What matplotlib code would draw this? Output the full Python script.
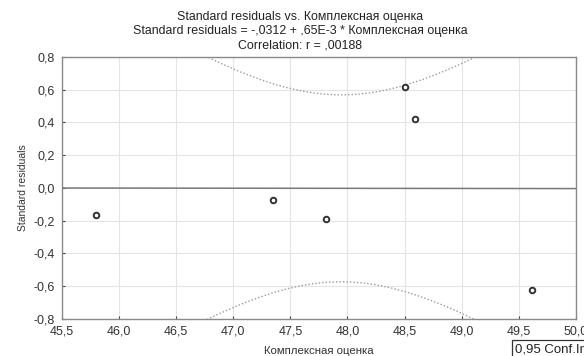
import numpy as np
import matplotlib
matplotlib.use("Agg")
import matplotlib.pyplot as plt

plt.rcParams['font.family'] = ['Liberation Sans', 'DejaVu Sans']

# data
x_vals = [45.80, 47.35, 47.81, 48.50, 48.59, 49.62]
y_vals = [-0.165, -0.073, -0.19, 0.617, 0.421, -0.623]
x_ticks = [45.5, 46.0, 46.5, 47.0, 47.5, 48.0, 48.5, 49.0, 49.5, 50.0]
y_ticks = [-0.8, -0.6, -0.4, -0.2, 0.0, 0.2, 0.4, 0.6, 0.8]
title_lines = ["Standard residuals vs. Комплексная оценка",
               "Standard residuals = -,0312 + ,65E-3 * Комплексная оценка",
               "Correlation: r = ,00188"]
t_crit = 2.776  # t(0.975, df=4)

x = np.array(x_vals)
y = np.array(y_vals)
n = len(x)
slope, intercept = np.polyfit(x, y, 1)
resid = y - (intercept + slope * x)
s = np.sqrt(np.sum(resid ** 2) / (n - 2))
sxx = np.sum((x - x.mean()) ** 2)
xs = np.linspace(45.5, 50.0, 400)
yhat = intercept + slope * xs
hw = t_crit * s * np.sqrt(1.0 / n + (xs - x.mean()) ** 2 / sxx)

fig = plt.figure(figsize=(5.84, 3.56), dpi=100)
ax = fig.add_axes([0.106, 0.104, 0.880, 0.736])

ax.set_xlim(45.5, 50.0)
ax.set_ylim(-0.8, 0.8)
ax.set_xticks(x_ticks)
ax.set_yticks(y_ticks)
fmt = lambda v: f"{v:.1f}".replace('.', ',')
ax.set_xticklabels([fmt(v) for v in x_ticks], fontsize=9, color='#333333')
ax.set_yticklabels([fmt(v) for v in y_ticks], fontsize=9, color='#333333')
ax.tick_params(axis='x', length=2, width=0.8, color='#444444', pad=5, direction='in')
ax.tick_params(axis='y', length=2, width=0.8, color='#444444', pad=5, direction='in')
ax.grid(True, color='#e4e4e4', linewidth=0.8)
ax.set_axisbelow(True)
for sp in ax.spines.values():
    sp.set_color('#8a8a8a')
    sp.set_linewidth(1.0)

ax.plot(xs, yhat, color='#7a7a7a', linewidth=1.1, zorder=3)
ax.plot(xs, yhat + hw, color='#9a9a9a', linestyle=(0, (1, 1.5)), linewidth=1.0, zorder=3)
ax.plot(xs, yhat - hw, color='#9a9a9a', linestyle=(0, (1, 1.5)), linewidth=1.0, zorder=3)
ax.scatter(x, y, s=16, facecolors='white', edgecolors='#333333', linewidths=1.4, zorder=4)

fig.text(0.514, 0.953, title_lines[0], ha='center', va='center', fontsize=8.9, color='#222222')
fig.text(0.514, 0.912, title_lines[1], ha='center', va='center', fontsize=8.9, color='#222222')
fig.text(0.514, 0.872, title_lines[2], ha='center', va='center', fontsize=8.9, color='#222222')

ax.set_xlabel("Комплексная оценка", fontsize=8.2, color='#333333', labelpad=6)
ax.set_ylabel("Standard residuals", fontsize=7.5, color='#333333', labelpad=4)

fig.text(0.882, 0.035, "0,95 Conf.Int.", ha='left', va='top', fontsize=9.5, color='#222222',
         bbox=dict(boxstyle='square,pad=0.25', facecolor='white', edgecolor='#333333', linewidth=0.9))

fig.savefig("out.png", dpi=100)
